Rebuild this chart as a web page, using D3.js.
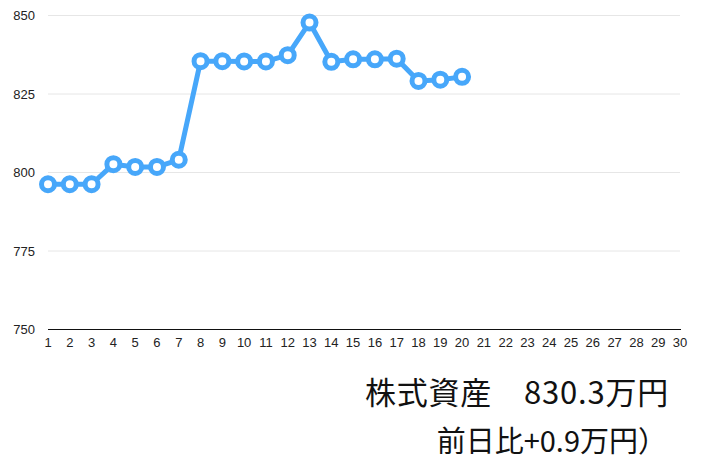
<!DOCTYPE html>
<html>
<head>
<meta charset="utf-8">
<script src="https://cdn.jsdelivr.net/npm/d3@7/dist/d3.min.js"></script>
<style>
  body { margin: 0; background: #fff; }
  .tick-label { font-family: "Liberation Sans", sans-serif; fill: #222; }
  .summary { font-family: "Noto Sans CJK JP", sans-serif; fill: #111; }
</style>
</head>
<body>
<svg id="chart" width="704" height="465"></svg>
<script>
// day numbers shown on the x axis
var days = d3.range(1, 31);
// asset value per day (万円), only first 20 days recorded
var recordDays = d3.range(1, 21);
var assetValues = [796.1, 796.1, 796.1, 802.5, 801.6, 801.6, 803.9, 835.3, 835.3, 835.2,
                   835.2, 837.2, 847.6, 835.1, 835.9, 835.9, 836.1, 829.0, 829.4, 830.3];
var yTicks = [750, 775, 800, 825, 850];
var summaryLines = ['株式資産　830.3万円', '前日比+0.9万円）'];

var svg = d3.select('#chart');

var x = d3.scaleLinear().domain([1, 30]).range([48, 680]);
var y = d3.scaleLinear().domain([750, 850]).range([329, 15]);

var lineColor = '#47a7fa';

// horizontal gridlines
svg.append('g').selectAll('line')
  .data(yTicks.filter(function(d) { return d > 750; }))
  .enter().append('line')
  .attr('x1', x(1)).attr('x2', x(30))
  .attr('y1', function(d) { return y(d) + 0.5; })
  .attr('y2', function(d) { return y(d) + 0.5; })
  .attr('stroke', '#e6e6e6')
  .attr('stroke-width', 1);

// baseline
svg.append('line')
  .attr('x1', x(1)).attr('x2', x(30) + 1)
  .attr('y1', y(750) + 0.5).attr('y2', y(750) + 0.5)
  .attr('stroke', '#111')
  .attr('stroke-width', 1.2);

// y labels
svg.append('g').selectAll('text')
  .data(yTicks)
  .enter().append('text')
  .attr('class', 'tick-label')
  .attr('x', 35)
  .attr('y', function(d) { return y(d) + 5; })
  .style('text-anchor', 'end')
  .style('font-size', '13px')
  .text(function(d) { return d; });

// x labels
svg.append('g').selectAll('text')
  .data(days)
  .enter().append('text')
  .attr('class', 'tick-label')
  .attr('x', function(d) { return x(d); })
  .attr('y', 347)
  .style('text-anchor', 'middle')
  .style('font-size', '13px')
  .text(function(d) { return d; });

var points = recordDays.map(function(d, i) { return {day: d, value: assetValues[i]}; });

var line = d3.line()
  .x(function(d) { return x(d.day); })
  .y(function(d) { return y(d.value); });

svg.append('path')
  .datum(points)
  .attr('d', line)
  .attr('fill', 'none')
  .attr('stroke', lineColor)
  .attr('stroke-width', 5)
  .attr('stroke-linejoin', 'round');

svg.append('g').selectAll('circle')
  .data(points)
  .enter().append('circle')
  .attr('cx', function(d) { return x(d.day); })
  .attr('cy', function(d) { return y(d.value); })
  .attr('r', 6.5)
  .attr('fill', '#fff')
  .attr('stroke', lineColor)
  .attr('stroke-width', 5);

// summary text
svg.append('g').selectAll('text')
  .data(summaryLines)
  .enter().append('text')
  .attr('class', 'summary')
  .attr('x', function(d, i) { return i === 0 ? 669 : 667; })
  .attr('y', function(d, i) { return i === 0 ? 404 : 452; })
  .style('text-anchor', 'end')
  .style('font-size', function(d, i) { return i === 0 ? '31px' : '29px'; })
  .style('letter-spacing', function(d, i) { return i === 0 ? '0.8px' : '0px'; })
  .text(function(d) { return d; });
</script>
</body>
</html>
